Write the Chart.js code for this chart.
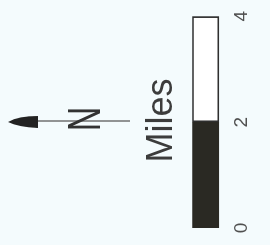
<!DOCTYPE html>
<html lang="en">
<head>
  <meta charset="UTF-8">
  <title>Scale bar</title>
  <script src="https://cdn.jsdelivr.net/npm/chart.js"></script>
  <style>
    html, body { margin: 0; padding: 0; background: #f4fbfd; overflow: hidden; }
    /* chart is drawn upright, then turned a quarter turn like the reference */
    .wrap {
      position: absolute; left: 0; top: 0; width: 245px; height: 270px;
      transform-origin: 0 0;
      transform: translate(0, 245px) rotate(-90deg);
    }
  </style>
</head>
<body>
<div class="wrap"><canvas id="myCanvas" width="245" height="270"></canvas></div>
<script>
  const categories = ["Scale"];
  const darkSegment = [2];
  const lightSegment = [2];
  const tickLabels = [0, 2, 4];

  // north arrow + N, sits above the scale bar
  const northArrow = {
    id: 'northArrow',
    afterDraw(chart) {
      const ctx = chart.ctx;
      const x = 124;
      ctx.save();
      ctx.strokeStyle = '#707070';
      ctx.lineWidth = 1.5;
      ctx.beginPath();
      ctx.moveTo(x, 130);
      ctx.lineTo(x, 34);
      ctx.stroke();

      ctx.fillStyle = '#222';
      ctx.beginPath();
      ctx.moveTo(x - 1, 8);
      ctx.quadraticCurveTo(x + 5, 18, x + 5, 38);
      ctx.lineTo(x - 7, 38);
      ctx.quadraticCurveTo(x - 6, 18, x - 1, 8);
      ctx.fill();

      ctx.translate(x + 2, 100);
      ctx.scale(0.74, 1);
      ctx.font = '46px "Liberation Sans"';
      ctx.textAlign = 'center';
      ctx.textBaseline = 'alphabetic';
      ctx.fillStyle = '#333';
      ctx.fillText('N', 0, 0);
      ctx.restore();
    }
  };

  new Chart(document.getElementById('myCanvas'), {
    type: 'bar',
    data: {
      labels: categories,
      datasets: [
        {
          label: '0-2',
          data: darkSegment,
          backgroundColor: '#2a2923',
          borderColor: '#2a2923',
          borderWidth: 2,
          borderSkipped: false,
          barPercentage: 1,
          categoryPercentage: 1
        },
        {
          label: '2-4',
          data: lightSegment,
          backgroundColor: '#ffffff',
          borderColor: '#2f2f2f',
          borderWidth: 2,
          borderSkipped: false,
          barPercentage: 1,
          categoryPercentage: 1
        }
      ]
    },
    options: {
      indexAxis: 'y',
      responsive: false,
      animation: false,
      layout: { padding: { top: 118, left: 17, right: 13, bottom: 6 } },
      plugins: {
        legend: { display: false },
        tooltip: { enabled: false },
        title: {
          display: true,
          text: 'Miles',
          color: '#3c3c3c',
          font: { family: '"Liberation Sans"', size: 36, weight: 'normal' },
          padding: { top: 22, bottom: 9 }
        }
      },
      scales: {
        x: {
          stacked: true,
          min: 0,
          max: 4,
          grid: { display: false, drawTicks: false },
          border: { display: false },
          afterBuildTicks: s => { s.ticks = tickLabels.map(v => ({ value: v })); },
          ticks: {
            padding: 11,
            color: '#505050',
            font: { family: '"Liberation Sans"', size: 19 }
          }
        },
        y: { stacked: true, display: false }
      }
    },
    plugins: [northArrow]
  });
</script>
</body>
</html>
